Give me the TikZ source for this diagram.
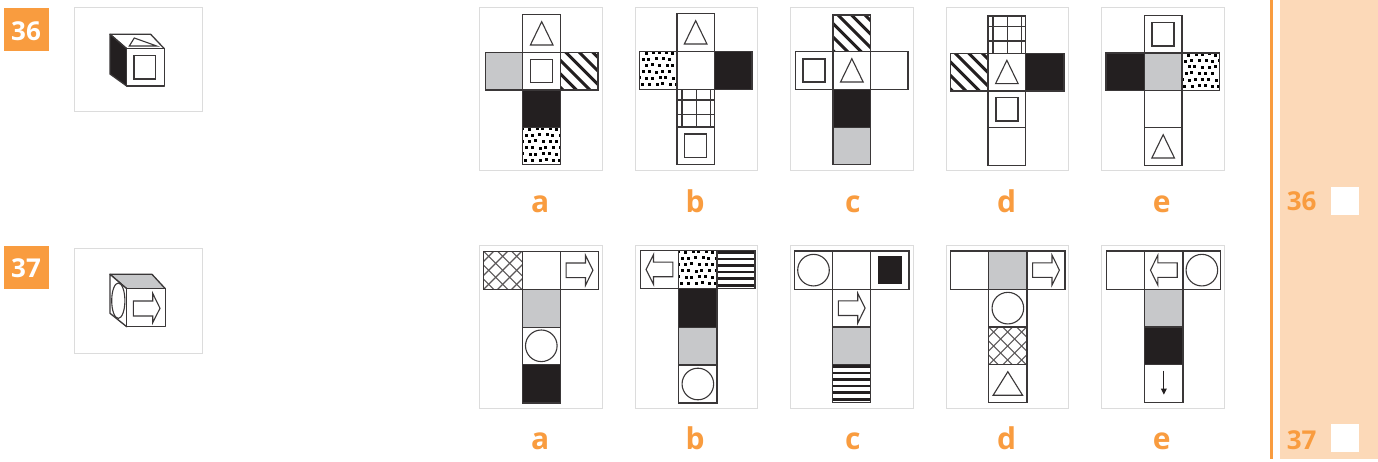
\documentclass[tikz,border=0pt]{standalone}
\usepackage{fontspec}
\setmainfont{Open Sans}
\definecolor{orng}{HTML}{F99C3F}
\definecolor{panel}{HTML}{FCD9B8}
\definecolor{ink}{HTML}{231F20}
\definecolor{gry}{HTML}{C7C8CA}
\definecolor{frm}{HTML}{DCDCDC}
\definecolor{edge}{HTML}{3A3738}
\tikzset{
  frameline/.style={draw=frm,line width=1pt},
  cellline/.style={draw=edge,line width=1.3pt},
  figline/.style={draw=edge,line width=1.1pt},
  cubeline/.style={draw=edge,line width=1.3pt,line join=round},
  optlabel/.style={anchor=base,text=orng,font=\fontsize{30}{30}\selectfont\bfseries,inner sep=0pt},
  tagnum/.style={anchor=base,text=white,font=\fontsize{26}{26}\selectfont\bfseries,inner sep=0pt},
  sidenum/.style={anchor=base,text=orng,font=\fontsize{26}{26}\selectfont\bfseries,inner sep=0pt}
}
\newcommand{\cell}[5]{%
  \begin{scope}[shift={(#1,#2)}]
    \pgfmathsetmacro{\cw}{#3-#1}\pgfmathsetmacro{\ch}{#4-#2}
    #5
  \end{scope}}
\newcommand{\cblank}{\path[fill=white,cellline] (0,0) rectangle (\cw,\ch);}
\newcommand{\cblack}{\path[fill=ink,cellline] (0,0) rectangle (\cw,\ch);}
\newcommand{\cgray}{\path[fill=gry,cellline] (0,0) rectangle (\cw,\ch);}
\newcommand{\ctri}{\cblank\path[figline,fill=white] (\cw/2-11.3,\ch/2+11.5) -- (\cw/2,\ch/2-11.8) -- (\cw/2+11.3,\ch/2+11.5) -- cycle;}
\newcommand{\cbigtri}{\cblank\path[figline,fill=white] (\cw/2-14.7,\ch/2+11.5) -- (\cw/2,\ch/2-12) -- (\cw/2+14.7,\ch/2+11.5) -- cycle;}
\newcommand{\csq}{\cblank\path[figline,line width=1.4pt,fill=white] (\cw/2-11,\ch/2-11.6) rectangle (\cw/2+11,\ch/2+11.6);}
\newcommand{\ccirc}{\cblank\path[figline,fill=white] (\cw/2,\ch/2) circle[radius=15.8];}
\newcommand{\cblacksq}{\cblank\path[fill=ink] (\cw/2-12,\ch/2-14.3) rectangle (\cw/2+12,\ch/2+14.3);}
\newcommand{\carrowr}{\cblank\path[figline,fill=white,line join=miter] (\cw/2-13.4,\ch/2-7.3) -- (\cw/2+6,\ch/2-7.3) -- (\cw/2+6,\ch/2-15) -- (\cw/2+13.4,\ch/2) -- (\cw/2+6,\ch/2+15) -- (\cw/2+6,\ch/2+7.3) -- (\cw/2-13.4,\ch/2+7.3) -- cycle;}
\newcommand{\carrowl}{\cblank\path[figline,fill=white,line join=miter] (\cw/2+13.4,\ch/2-7.3) -- (\cw/2-6,\ch/2-7.3) -- (\cw/2-6,\ch/2-15) -- (\cw/2-13.4,\ch/2) -- (\cw/2-6,\ch/2+15) -- (\cw/2-6,\ch/2+7.3) -- (\cw/2+13.4,\ch/2+7.3) -- cycle;}
\newcommand{\cdown}{\cblank\draw[ink,line width=1.1pt] (\cw/2,6) -- (\cw/2,25);\fill[ink] (\cw/2-3,24) -- (\cw/2+3,24) -- (\cw/2,30) -- cycle;}
\newcommand{\chatch}{\cblank
  \begin{scope}\clip (0,0) rectangle (\cw,\ch);
    \foreach \k in {-4,...,3}{\draw[ink,line width=3pt] (\k*13.5+4,-1) -- (\k*13.5+44,39);}
  \end{scope}\path[cellline] (0,0) rectangle (\cw,\ch);}
\newcommand{\cgrid}{\cblank
  \foreach \k in {5,19.3,33.5}{\draw[edge,line width=1.2pt] (\k,0) -- (\k,\ch);}
  \foreach \k in {10.7,25}{\draw[edge,line width=1.2pt] (0,\k) -- (\cw,\k);}
  \path[cellline] (0,0) rectangle (\cw,\ch);}
\newcommand{\cstripes}{\cblank
  \begin{scope}\clip (0,0) rectangle (\cw,\ch);
    \foreach \k in {2,8.6,15.2,21.8,28.4,35}{\fill[ink] (0,\k-1.3) rectangle (\cw,\k+1.3);}
  \end{scope}\path[cellline] (0,0) rectangle (\cw,\ch);}
\newcommand{\ccross}{\cblank
  \begin{scope}\clip (0,0) rectangle (\cw,\ch);
    \foreach \k in {-3,...,3}{
      \draw[ink!75,line width=1.1pt] (\k*14-1,-1) -- (\k*14+39,39);
      \draw[ink!75,line width=1.1pt] (\k*14+39,-1) -- (\k*14-1,39);}
  \end{scope}\path[cellline] (0,0) rectangle (\cw,\ch);}
\newcommand{\cdotted}{\cblank
  \begin{scope}\clip (0,0) rectangle (\cw,\ch);
    \foreach \j in {0,...,6}{\foreach \i in {0,...,6}{
      \pgfmathsetmacro{\px}{\i*6.8+mod(\j,2)*3.4+mod(\i*7+\j*13,5)*0.35-0.7}
      \pgfmathsetmacro{\py}{\j*6.3+1.5+mod(\i*11+\j*3,4)*0.35-0.5}
      \fill[black] (\px-1.5,\py-1.5) rectangle (\px+1.5,\py+1.5);}}
  \end{scope}\path[cellline] (0,0) rectangle (\cw,\ch);}
\begin{document}
\begin{tikzpicture}[x=1pt,y=-1pt]
\useasboundingbox[fill=white] (0,0) rectangle (1378,462);
% side panel
\fill[panel] (1280,0) rectangle (1378,459);
\draw[orng,line width=3pt] (1271.8,0) -- (1271.8,459);
\fill[white] (1331,187) rectangle (1359,215);
\fill[white] (1331,424) rectangle (1359,452);
\node[sidenum] (s36) at (1301.7,210.7) {36};
\node[sidenum] (s37) at (1301.7,449) {37};
% number tags
\fill[orng] (4,8.5) rectangle (49,51);
\fill[orng] (4,246) rectangle (49,289);
\node[tagnum] (t36) at (26,40.7) {36};
\node[tagnum] (t37) at (26,277.7) {37};
% question frames
\path[frameline] (74,7.5) rectangle (202,112);
\path[frameline] (74,248.5) rectangle (202,353);
% cube 36
\path[cubeline,fill=white] (110,34.3) -- (150.7,34.3) -- (164.3,48.7) -- (126.7,48.7) -- cycle;
\path[cubeline,fill=ink] (110,34.3) -- (126.7,48.7) -- (126.7,86) -- (110,74) -- cycle;
\path[cubeline,fill=white] (126.7,48.7) rectangle (164.3,86);
\path[figline,fill=white] (134,55.7) rectangle (155.7,79);
\path[figline,fill=white] (129.3,46) -- (134.3,38) -- (156.7,46) -- cycle;
% cube 37
\path[cubeline,fill=gry] (110,274.3) -- (152,274.3) -- (165.3,288.7) -- (126.7,288.7) -- cycle;
\path[cubeline,fill=white] (110,274.3) -- (126.7,288.7) -- (126.7,326.7) -- (110,313.3) -- cycle;
\path[cubeline,fill=white] (126.7,288.7) rectangle (165.3,326.7);
\path[figline,fill=white] (118.3,300.7) circle[x radius=6.6,y radius=17.7];
\path[figline,fill=white,line join=miter] (133.3,301) -- (152.7,301) -- (152.7,293.3) -- (160,308.3) -- (152.7,322.7) -- (152.7,316) -- (133.3,316) -- cycle;
% option frames
\foreach \xa/\xb in {479.5/602.5,635.3/757.7,790.5/913.3,946.2/1068.5,1101.5/1224.3}{
  \path[frameline] (\xa,8) rectangle (\xb,171);
  \path[frameline] (\xa,245.7) rectangle (\xb,408.3);
}
% 36 a
\cell{522.7}{14.7}{560.7}{52.3}{\ctri}
\cell{485.3}{52.3}{522.7}{90}{\cgray}
\cell{522.7}{52.3}{560.7}{90}{\csq}
\cell{560.7}{52.3}{598}{90}{\chatch}
\cell{522.7}{90}{560.7}{127.3}{\cblack}
\cell{522.7}{127.3}{560.7}{164.3}{\cdotted}
% 36 b
\cell{677}{13.7}{714.3}{51.3}{\ctri}
\cell{639.3}{51.3}{677}{89.3}{\cdotted}
\cell{677}{51.3}{714.3}{89.3}{\cblank}
\cell{714.3}{51.3}{752}{89.3}{\cblack}
\cell{677}{89.3}{714.3}{127}{\cgrid}
\cell{677}{127}{714.3}{164.3}{\csq}
% 36 c
\cell{833}{15}{870.7}{51.7}{\chatch}
\cell{795.3}{51.7}{833}{89.3}{\csq}
\cell{833}{51.7}{870.7}{89.3}{\ctri}
\cell{870.7}{51.7}{908}{89.3}{\cblank}
\cell{833}{89.3}{870.7}{127.3}{\cblack}
\cell{833}{127.3}{870.7}{164.3}{\cgray}
% 36 d
\cell{988}{16}{1025.7}{53.3}{\cgrid}
\cell{950.3}{53.3}{988}{91}{\chatch}
\cell{988}{53.3}{1025.7}{91}{\ctri}
\cell{1025.7}{53.3}{1064}{91}{\cblack}
\cell{988}{91}{1025.7}{127.7}{\csq}
\cell{988}{127.7}{1025.7}{165.3}{\cblank}
% 36 e
\cell{1144.3}{15.7}{1182}{53}{\csq}
\cell{1106}{53}{1144.3}{90.7}{\cblack}
\cell{1144.3}{53}{1182}{90.7}{\cgray}
\cell{1182}{53}{1219.7}{90.7}{\cdotted}
\cell{1144.3}{90.7}{1182}{127.7}{\cblank}
\cell{1144.3}{127.7}{1182}{165.3}{\ctri}
% 37 a
\cell{483.7}{251.3}{522.3}{289.3}{\ccross}
\cell{522.3}{251.3}{560.3}{289.3}{\cblank}
\cell{560.3}{251.3}{598.7}{289.3}{\carrowr}
\cell{522.3}{289.3}{560.3}{327.3}{\cgray}
\cell{522.3}{327.3}{560.3}{364.3}{\ccirc}
\cell{522.3}{364.3}{560.3}{403}{\cblack}
% 37 b
\cell{640.3}{250.3}{678.7}{288.7}{\carrowl}
\cell{678.7}{250.3}{717}{288.7}{\cdotted}
\cell{717}{250.3}{755}{288.7}{\cstripes}
\cell{678.7}{288.7}{717}{327.7}{\cblack}
\cell{678.7}{327.7}{717}{365}{\cgray}
\cell{678.7}{365}{717}{403}{\ccirc}
% 37 c
\cell{794.3}{251}{832.7}{289.3}{\ccirc}
\cell{832.7}{251}{870.7}{289.3}{\cblank}
\cell{870.7}{251}{909}{289.3}{\cblacksq}
\cell{832.7}{289.3}{870.7}{327}{\carrowr}
\cell{832.7}{327}{870.7}{364.3}{\cgray}
\cell{832.7}{364.3}{870.7}{402.3}{\cstripes}
% 37 d
\cell{950.3}{251}{988.7}{289.3}{\cblank}
\cell{988.7}{251}{1027}{289.3}{\cgray}
\cell{1027}{251}{1065}{289.3}{\carrowr}
\cell{988.7}{289.3}{1027}{327}{\ccirc}
\cell{988.7}{327}{1027}{364.7}{\ccross}
\cell{988.7}{364.7}{1027}{402.7}{\cbigtri}
% 37 e
\cell{1106.3}{251}{1144.7}{289.3}{\cblank}
\cell{1144.7}{251}{1183}{289.3}{\carrowl}
\cell{1183}{251}{1220.7}{289.3}{\ccirc}
\cell{1144.7}{289.3}{1183}{327}{\cgray}
\cell{1144.7}{327}{1183}{364.7}{\cblack}
\cell{1144.7}{364.7}{1183}{402.7}{\cdown}
% letters
\node[optlabel] (a1) at (540.3,212.7) {a};
\node[optlabel] (b1) at (695,212.7) {b};
\node[optlabel] (c1) at (852.7,212.7) {c};
\node[optlabel] (d1) at (1006.7,212.7) {d};
\node[optlabel] (e1) at (1161.7,212.7) {e};
\node[optlabel] (a2) at (540.3,449.7) {a};
\node[optlabel] (b2) at (695,449.7) {b};
\node[optlabel] (c2) at (852.7,449.7) {c};
\node[optlabel] (d2) at (1006.7,449.7) {d};
\node[optlabel] (e2) at (1161.7,449.7) {e};
\end{tikzpicture}
\end{document}
